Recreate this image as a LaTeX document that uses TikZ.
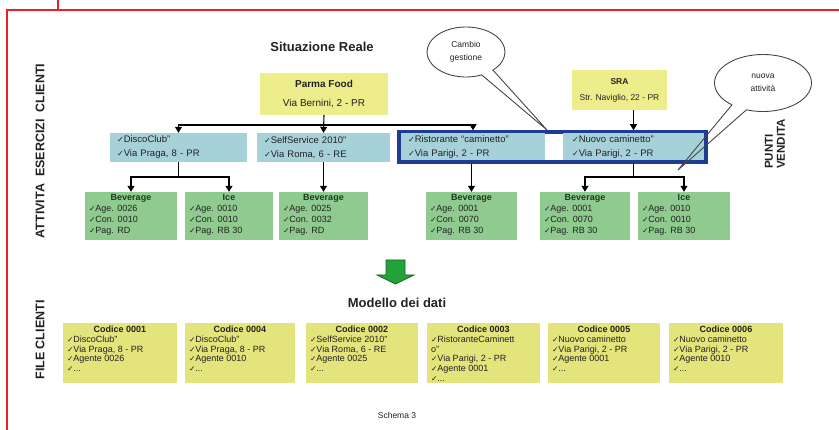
\documentclass[tikz,border=0pt]{standalone}
\usepackage{fontspec}
\setmainfont{Liberation Sans}
\newfontfamily\dejavu{DejaVu Sans}
\usetikzlibrary{arrows.meta,shapes.callouts,shapes.geometric}
\definecolor{tealbox}{HTML}{A7D1D9}
\definecolor{frameblue}{HTML}{1E3C96}
\definecolor{greenbox}{HTML}{8FCB8F}
\definecolor{ytop}{HTML}{EDED8C}
\definecolor{ybot}{HTML}{E4E47C}
\definecolor{redline}{HTML}{E8202A}
\definecolor{garrow}{HTML}{22A33A}
\definecolor{gdark}{HTML}{13651F}
\definecolor{txt}{HTML}{222222}
\definecolor{gtitle}{HTML}{1E3A1E}
\newcommand\chk{{\dejavu\scalebox{0.85}{✓}}}
\newcommand\gcont[5]{\parbox[c][44pt][t]{#1pt}{\raggedright\makebox[\linewidth]{\bfseries\color{gtitle}#2}\\\chk #3\\\chk #4\\\chk #5}}
\newcommand\ycont[6]{\parbox[c][54pt][t]{#1pt}{\raggedright\makebox[\linewidth]{\bfseries #2}\\\chk #3\\\chk #4\\\chk #5\\\chk #6}}
\tikzset{
  tbox/.style={fill=tealbox, inner xsep=7pt, inner ysep=0pt, minimum height=29pt, align=left, font=\fontsize{9.5}{14}\selectfont, text=txt},
  gbox/.style={fill=greenbox, inner xsep=4pt, inner ysep=2pt, font=\fontsize{9}{11}\selectfont, text=txt},
  ybox/.style={fill=ybot, inner xsep=4pt, inner ysep=3pt, font=\fontsize{9}{9.8}\selectfont, text=txt},
  hbox/.style={fill=ytop, align=center, text=txt, inner sep=0pt},
  conn/.style={draw=black, line width=1.1pt},
  arr/.style={conn, -{Triangle[width=7pt,length=6pt]}},
  bubble/.style={ellipse callout, draw=gray!55!black, line width=0.9pt, align=center, inner sep=0pt, font=\fontsize{8.5}{13.5}\selectfont, text=txt, callout pointer arc=20},
  side/.style={rotate=90, font=\bfseries\fontsize{12.5}{13}\selectfont, text=txt},
  ttl/.style={font=\bfseries\fontsize{13}{15}\selectfont, text=txt}
}
\begin{document}
\begin{tikzpicture}[x=1pt,y=-1pt]
\useasboundingbox (0,0) rectangle (839,430);
% red frame
\draw[redline, line width=2pt] (7,430) -- (7,10) -- (839,10);
\draw[redline, line width=2pt] (58,0) -- (58,10);
% titles and side labels
\node[ttl] (sr) at (322,47) {Situazione Reale};
\node[ttl] (md) at (397,303) {Modello dei dati};
\node[font=\fontsize{8.5}{10}\selectfont, text=txt] (sch) at (397,415) {Schema 3};
\node[side] (l1) at (40,151) {ATTIVITA\ \ ESERCIZI\ \ CLIENTI};
\node[side] (l2) at (40,340) {FILE CLIENTI};
\node[side, align=left, font=\bfseries\fontsize{11.5}{12}\selectfont] (pv) at (775,144) {PUNTI\\VENDITA};
% top companies
\node[hbox, minimum width=128pt, minimum height=42pt, font=\fontsize{10}{19}\selectfont] (pf) at (324,94) {\textbf{Parma Food}\\Via Bernini, 2 - PR};
\node[hbox, minimum width=95pt, minimum height=40pt, font=\fontsize{8.5}{16}\selectfont] (sra) at (619.5,90) {\textbf{SRA}\\Str. Naviglio, 22 - PR};
% outlets
\node[tbox, text width=123pt] (dc) at (178.5,147.5) {\chk DiscoClub”\\\chk Via Praga, 8 - PR};
\node[tbox, text width=119pt] (sc) at (323.5,147.5) {\chk SelfService 2010”\\\chk Via Roma, 6 - RE};
\node[draw=frameblue, line width=3.5pt, fill=white, minimum width=307pt, minimum height=30pt, inner sep=0pt] (frame) at (552.5,147) {};
\node[tbox, minimum height=27pt, text width=130pt] (ri) at (473,147) {\chk Ristorante “caminetto”\\\chk Via Parigi, 2 - PR};
\node[tbox, minimum height=27pt, inner xsep=9pt, text width=123pt] (nc) at (633.5,147) {\chk Nuovo caminetto”\\\chk Via Parigi, 2 - PR};
% activities
\node[gbox] (g1) at (131,216) {\gcont{84}{Beverage}{Age. 0026}{Con. 0010}{Pag. RD}};
\node[gbox] (g2) at (229,216) {\gcont{80}{Ice}{Age. 0010}{Con. 0010}{Pag. RB 30}};
\node[gbox] (g3) at (323.5,216) {\gcont{81}{Beverage}{Age. 0025}{Con. 0032}{Pag. RD}};
\node[gbox] (g4) at (471.5,216) {\gcont{83}{Beverage}{Age. 0001}{Con. 0070}{Pag. RB 30}};
\node[gbox] (g5) at (585,216) {\gcont{82}{Beverage}{Age. 0001}{Con. 0070}{Pag. RB 30}};
\node[gbox] (g6) at (684,216) {\gcont{84}{Ice}{Age. 0010}{Con. 0010}{Pag. RB 30}};
% connectors
\coordinate (b1) at (324,125);
\coordinate (b2) at (178.5,177);
\coordinate (b3) at (633.5,177);
\draw[arr] (pf.south) -- (sc.north);
\draw[arr] (b1) -| (dc.north);
\draw[arr] (b1) -| (ri.north |- frame.north);
\draw[arr] (sra.south -| nc.north) -- (nc.north |- frame.north);
\draw[conn] (dc.south) -- (b2);
\draw[arr] (b2) -| (g1.north);
\draw[arr] (b2) -| (g2.north);
\draw[arr] (sc.south) -- (g3.north);
\draw[arr] (frame.south -| g4.north) -- (g4.north);
\draw[conn] (frame.south -| nc.south) -- (b3);
\draw[arr] (b3) -| (g5.north);
\draw[arr] (b3) -| (g6.north);
% callouts
\coordinate (tipA) at (547,130);
\coordinate (tipB) at (678,170);
\node[bubble, minimum width=78pt, minimum height=50pt, callout absolute pointer={(tipA)}] (cg) at (466,52) {Cambio\\gestione};
\node[bubble, minimum width=97pt, minimum height=57pt, callout absolute pointer={(tipB)}] (na) at (763,83) {nuova\\attività};
% green arrow
\filldraw[fill=garrow, draw=gdark, line width=0.8pt] (386,260) -- (405,260) -- (405,275) -- (414,275) -- (395.5,284) -- (377,275) -- (386,275) -- cycle;
% client file
\node[ybox] (y1) at (120,353) {\ycont{106}{Codice 0001}{DiscoClub”}{Via Praga, 8 - PR}{Agente 0026}{...}};
\node[ybox] (y2) at (240,353) {\ycont{102}{Codice 0004}{DiscoClub”}{Via Praga, 8 - PR}{Agente 0010}{...}};
\node[ybox] (y3) at (362,353) {\ycont{104}{Codice 0002}{SelfService 2010”}{Via Roma, 6 - RE}{Agente 0025}{...}};
\node[ybox] (y4) at (483.5,353) {\ycont{105}{Codice 0003}{RistoranteCaminett\\o”}{Via Parigi, 2 - PR}{Agente 0001}{...}};
\node[ybox] (y5) at (604,353) {\ycont{104}{Codice 0005}{Nuovo caminetto}{Via Parigi, 2 - PR}{Agente 0001}{...}};
\node[ybox] (y6) at (726,353) {\ycont{106}{Codice 0006}{Nuovo caminetto}{Via Parigi, 2 - PR}{Agente 0010}{...}};
\end{tikzpicture}
\end{document}
